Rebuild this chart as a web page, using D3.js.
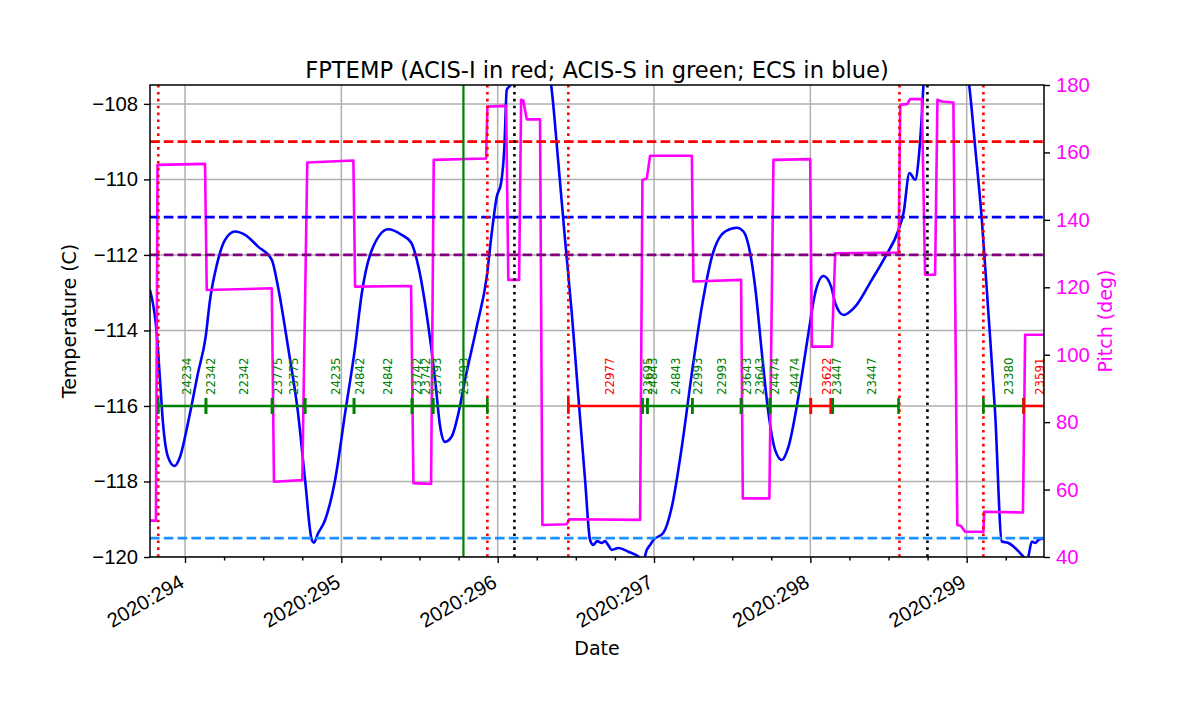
<!DOCTYPE html>
<html>
<head>
<meta charset="utf-8">
<script src="https://cdn.jsdelivr.net/npm/d3@7"></script>
<style>
  html, body { margin: 0; padding: 0; background: #fff; }
  svg { display: block; font-family: "DejaVu Sans", sans-serif; }
</style>
</head>
<body>
<svg id="chart" width="1200" height="714"></svg>
<script>
// ---------------- DATA ----------------
const titleText = "FPTEMP (ACIS-I in red; ACIS-S in green; ECS in blue)";
const xMajorDays = [294, 295, 296, 297, 298, 299];
const xTickPrefix = "2020:";
const tempTicks = [-120, -118, -116, -114, -112, -110, -108];
const pitchTicks = [40, 60, 80, 100, 120, 140, 160, 180];

// FPTEMP (blue) : day of year, temperature (C)
const tempDays = [293.776, 293.819, 293.840, 293.859, 293.891, 293.932, 293.968, 294.019, 294.083, 294.132,
  294.160, 294.203, 294.256, 294.320, 294.384, 294.467, 294.555, 294.595, 294.659, 294.723,
  294.768, 294.811, 294.825, 294.849, 294.896, 294.960, 295.024, 295.088, 295.131, 295.195,
  295.301, 295.386, 295.446, 295.493, 295.557, 295.600, 295.632, 295.663, 295.706, 295.749,
  295.791, 295.866, 295.930, 295.962, 295.994, 296.022, 296.043, 296.058, 296.079, 296.207,
  296.303, 296.342, 296.388, 296.431, 296.474, 296.516, 296.559, 296.591, 296.612, 296.636,
  296.666, 296.687, 296.706, 296.730, 296.772, 296.836, 296.900, 296.930, 296.954, 296.975,
  296.996, 297.060, 297.114, 297.178, 297.242, 297.306, 297.370, 297.455, 297.530, 297.572,
  297.615, 297.647, 297.690, 297.732, 297.775, 297.818, 297.860, 297.924, 297.988, 298.031,
  298.084, 298.133, 298.159, 298.212, 298.287, 298.393, 298.479, 298.564, 298.596, 298.634,
  298.671, 298.692, 298.714, 298.724, 298.830, 298.958, 299.016, 299.054, 299.097, 299.139,
  299.182, 299.225, 299.267, 299.310, 299.363, 299.387, 299.417, 299.438, 299.459, 299.491];
const tempValues = [-112.93, -114.07, -115.31, -116.45, -117.35, -117.59, -117.35, -116.45, -115.13, -114.17,
  -113.19, -112.27, -111.60, -111.38, -111.47, -111.78, -112.13, -112.85, -114.44, -116.19,
  -117.96, -119.55, -119.62, -119.39, -119.02, -117.96, -116.19, -114.44, -113.01, -111.87,
  -111.32, -111.47, -111.67, -112.31, -113.90, -115.31, -116.55, -116.95, -116.81, -116.19,
  -115.31, -113.90, -112.58, -111.42, -110.46, -110.09, -109.13, -107.63, -107.52, -106.30,
  -106.70, -107.50, -109.56, -111.60, -113.54, -115.75, -117.96, -119.55, -119.68, -119.58,
  -119.63, -119.58, -119.68, -119.81, -119.76, -119.86, -119.99, -120.11, -119.81, -119.68,
  -119.55, -119.36, -118.67, -117.08, -115.13, -113.37, -112.05, -111.38, -111.28, -111.38,
  -111.95, -112.85, -114.60, -116.19, -117.17, -117.43, -117.08, -115.75, -114.07, -113.01,
  -112.56, -112.84, -113.27, -113.59, -113.37, -112.66, -112.05, -111.34, -110.89, -109.83,
  -110.01, -109.48, -108.24, -107.50, -106.04, -106.30, -107.50, -109.13, -111.07, -113.54,
  -116.19, -119.59, -119.63, -119.76, -119.99, -120.08, -119.59, -119.63, -119.55, -119.50];

// Pitch (magenta) : day of year, pitch (deg)
const pitchDays = [293.776, 293.814, 293.824, 294.128, 294.139, 294.555, 294.569, 294.750, 294.782, 295.077,
  295.088, 295.446, 295.461, 295.574, 295.591, 295.926, 295.934, 296.054, 296.068, 296.137,
  296.150, 296.164, 296.186, 296.271, 296.286, 296.442, 296.457, 296.911, 296.926, 296.954,
  296.975, 297.242, 297.252, 297.557, 297.568, 297.738, 297.764, 297.999, 298.010, 298.138,
  298.159, 298.564, 298.575, 298.621, 298.638, 298.713, 298.734, 298.798, 298.813, 298.841,
  298.915, 298.940, 298.964, 298.990, 299.107, 299.112, 299.360, 299.374, 299.496];
const pitchValues = [50.8, 50.8, 156.3, 156.6, 119.2, 119.7, 62.3, 62.8, 157.0, 157.6,
  120.2, 120.4, 61.9, 61.7, 157.8, 158.2, 173.6, 173.8, 122.2, 122.2,
  175.6, 175.4, 169.8, 169.8, 49.5, 49.7, 51.2, 51.0, 151.8, 152.3,
  159.0, 159.0, 121.7, 122.2, 57.4, 57.4, 157.8, 158.0, 102.4, 102.4,
  130.1, 130.3, 174.1, 174.4, 175.8, 175.8, 123.7, 123.7, 175.6, 175.1,
  174.8, 49.5, 49.2, 47.5, 47.5, 53.4, 53.2, 105.9, 105.9];

// Observation intervals (plotted at -116 C)
const obsStarts = [293.829, 294.134, 294.557, 294.768, 295.081, 295.452, 295.587,
  296.452, 296.926, 296.958, 297.245, 297.557, 297.742, 298.003, 298.143, 299.107, 299.364];
const obsStops = [294.134, 294.557, 294.768, 295.081, 295.452, 295.587, 295.934,
  296.926, 296.958, 297.245, 297.557, 297.742, 298.003, 298.130, 298.564, 299.364, 299.560];
const obsInstr = ["S", "S", "S", "S", "S", "S", "S",
  "I", "S", "S", "S", "S", "S", "I", "S", "S", "I"];

// ObsID labels
const labelDays = [294.011, 294.164, 294.377, 294.593, 294.693, 294.964, 295.120, 295.294, 295.482, 295.542,
  295.610, 295.785, 296.715, 296.963, 296.991, 297.141, 297.280, 297.434, 297.594, 297.679,
  297.775, 297.903, 298.106, 298.170, 298.393, 299.267, 299.466];
const labelIds = ["24234", "22342", "22342", "23775", "23775", "24235", "24842", "24842", "23742", "23742",
  "23793", "23793", "22977", "23695", "24843", "24843", "22993", "22993", "23643", "23643",
  "24474", "24474", "23622", "23447", "23447", "23380", "23591"];
const labelInstr = ["S", "S", "S", "S", "S", "S", "S", "S", "S", "S",
  "S", "S", "I", "S", "S", "S", "S", "S", "S", "S",
  "S", "S", "I", "S", "S", "S", "I"];
const obsLevel = -116;

// Limit lines (temperature)
const limitTemps = [-109.0, -111.0, -112.0, -119.5];
const limitColors = ["#ff0000", "#0000ff", "#800080", "#1e90ff"];

// Event lines (day of year)
const redEventDays = [293.829, 295.934, 296.452, 298.570, 299.107];
const blackEventDays = [296.107, 298.749];
const greenEventDays = [295.781];

// ---------------- DRAW ----------------
const svg = d3.select("#chart");
const L = 150, R = 1044, T = 85, B = 557;
const tickFont = 20.3;
const labelFont = 19;
const titleFont = 22.6;

const x = d3.scaleLinear().domain([293.776, 299.4946]).range([L, R]);
const y = d3.scaleLinear().domain([-120, -107.5]).range([B, T]);
const y2 = d3.scaleLinear().domain([40, 180]).range([B, T]);

svg.append("defs").append("clipPath").attr("id", "clip")
  .append("rect").attr("x", L).attr("y", T).attr("width", R - L).attr("height", B - T);

const plot = svg.append("g").attr("clip-path", "url(#clip)");

// grid
plot.selectAll(".vgrid").data(xMajorDays).join("line")
  .attr("x1", d => x(d)).attr("x2", d => x(d)).attr("y1", T).attr("y2", B)
  .attr("stroke", "#b0b0b0").attr("stroke-width", 1.5);
plot.selectAll(".hgrid").data(tempTicks).join("line")
  .attr("x1", L).attr("x2", R).attr("y1", d => y(d)).attr("y2", d => y(d))
  .attr("stroke", "#b0b0b0").attr("stroke-width", 1.5);

// temperature curve
plot.append("path")
  .datum(tempDays.map((d, i) => [d, tempValues[i]]))
  .attr("fill", "none").attr("stroke", "#0000ff").attr("stroke-width", 2.6)
  .attr("stroke-linejoin", "round")
  .attr("d", d3.line().curve(d3.curveMonotoneX).x(d => x(d[0])).y(d => y(d[1])));

// pitch curve
plot.append("path")
  .datum(pitchDays.map((d, i) => [d, pitchValues[i]]))
  .attr("fill", "none").attr("stroke", "#ff00ff").attr("stroke-width", 2.6)
  .attr("stroke-linejoin", "round")
  .attr("d", d3.line().x(d => x(d[0])).y(d => y2(d[1])));

// limit lines
plot.selectAll(".limit").data(limitTemps).join("line")
  .attr("x1", L).attr("x2", R).attr("y1", d => y(d)).attr("y2", d => y(d))
  .attr("stroke", (d, i) => limitColors[i]).attr("stroke-width", 2.6)
  .attr("stroke-dasharray", "9.6,4.2");

// event lines
plot.selectAll(".green-ev").data(greenEventDays).join("line")
  .attr("x1", d => x(d)).attr("x2", d => x(d)).attr("y1", T).attr("y2", B)
  .attr("stroke", "#008000").attr("stroke-width", 2.2);
plot.selectAll(".red-ev").data(redEventDays).join("line")
  .attr("x1", d => x(d)).attr("x2", d => x(d)).attr("y1", T).attr("y2", B)
  .attr("stroke", "#ff0000").attr("stroke-width", 2.6).attr("stroke-dasharray", "2.6,4.3");
plot.selectAll(".black-ev").data(blackEventDays).join("line")
  .attr("x1", d => x(d)).attr("x2", d => x(d)).attr("y1", T).attr("y2", B)
  .attr("stroke", "#000000").attr("stroke-width", 2.6).attr("stroke-dasharray", "2.6,4.3");

// observation bars
const instColor = k => k === "I" ? "#ff0000" : "#008000";
const obsG = plot.append("g");
obsStarts.forEach((s, i) => {
  const c = instColor(obsInstr[i]);
  obsG.append("line").attr("x1", x(s)).attr("x2", x(obsStops[i]))
    .attr("y1", y(obsLevel)).attr("y2", y(obsLevel))
    .attr("stroke", c).attr("stroke-width", 2.6);
  [s, obsStops[i]].forEach(t => {
    obsG.append("line").attr("x1", x(t)).attr("x2", x(t))
      .attr("y1", y(obsLevel) - 8).attr("y2", y(obsLevel) + 8)
      .attr("stroke", c).attr("stroke-width", 2.6);
  });
});
plot.selectAll(".obslabel").data(labelDays).join("text")
  .attr("transform", d => `translate(${x(d)},${y(obsLevel) - 11}) rotate(-90)`)
  .attr("dy", "0.36em")
  .attr("font-size", 11.8)
  .attr("fill", (d, i) => instColor(labelInstr[i]))
  .text((d, i) => labelIds[i]);

// frame
svg.append("rect").attr("x", L).attr("y", T).attr("width", R - L).attr("height", B - T)
  .attr("fill", "none").attr("stroke", "#000").attr("stroke-width", 1.5);

// x axis
const minorDays = d3.range(293.75, 299.5001, 0.25).filter(d => d >= 293.776 && d <= 299.4946 && !xMajorDays.includes(d));
const xMinor = svg.append("g").attr("transform", `translate(0,${B})`)
  .call(d3.axisBottom(x).tickValues(minorDays).tickSize(3.5).tickFormat(""));
const xMajor = svg.append("g").attr("transform", `translate(0,${B})`)
  .call(d3.axisBottom(x).tickValues(xMajorDays).tickSize(6).tickFormat(d => xTickPrefix + d));
[xMinor, xMajor].forEach(g => {
  g.select(".domain").remove();
  g.selectAll("line").attr("stroke", "#000").attr("stroke-width", 1.4);
});
xMajor.selectAll("text")
  .attr("font-size", tickFont).attr("fill", "#000")
  .attr("text-anchor", "end")
  .attr("y", 0).attr("dy", 0)
  .attr("transform", "translate(0,29) rotate(-30)");

// left axis
const yAx = svg.append("g").attr("transform", `translate(${L},0)`)
  .call(d3.axisLeft(y).tickValues(tempTicks).tickSize(6).tickPadding(6).tickFormat(d3.format("d")));
yAx.select(".domain").remove();
yAx.selectAll("line").attr("stroke", "#000").attr("stroke-width", 1.4);
yAx.selectAll("text").attr("font-size", tickFont).attr("fill", "#000");

// right axis
const y2Ax = svg.append("g").attr("transform", `translate(${R},0)`)
  .call(d3.axisRight(y2).tickValues(pitchTicks).tickSize(6).tickPadding(6).tickFormat(d3.format("d")));
y2Ax.select(".domain").remove();
y2Ax.selectAll("line").attr("stroke", "#000").attr("stroke-width", 1.4);
y2Ax.selectAll("text").attr("font-size", tickFont).attr("fill", "#ff00ff");

// titles
svg.append("text").attr("x", (L + R) / 2).attr("y", 78)
  .attr("text-anchor", "middle").attr("font-size", titleFont).attr("fill", "#000")
  .text(titleText);
svg.append("text").attr("x", (L + R) / 2).attr("y", 655)
  .attr("text-anchor", "middle").attr("font-size", labelFont).attr("fill", "#000")
  .text("Date");
svg.append("text").attr("transform", `translate(76,${(T + B) / 2}) rotate(-90)`)
  .attr("text-anchor", "middle").attr("font-size", labelFont).attr("fill", "#000")
  .text("Temperature (C)");
svg.append("text").attr("transform", `translate(1112,${(T + B) / 2}) rotate(-90)`)
  .attr("text-anchor", "middle").attr("font-size", labelFont).attr("fill", "#ff00ff")
  .text("Pitch (deg)");
</script>
</body>
</html>
